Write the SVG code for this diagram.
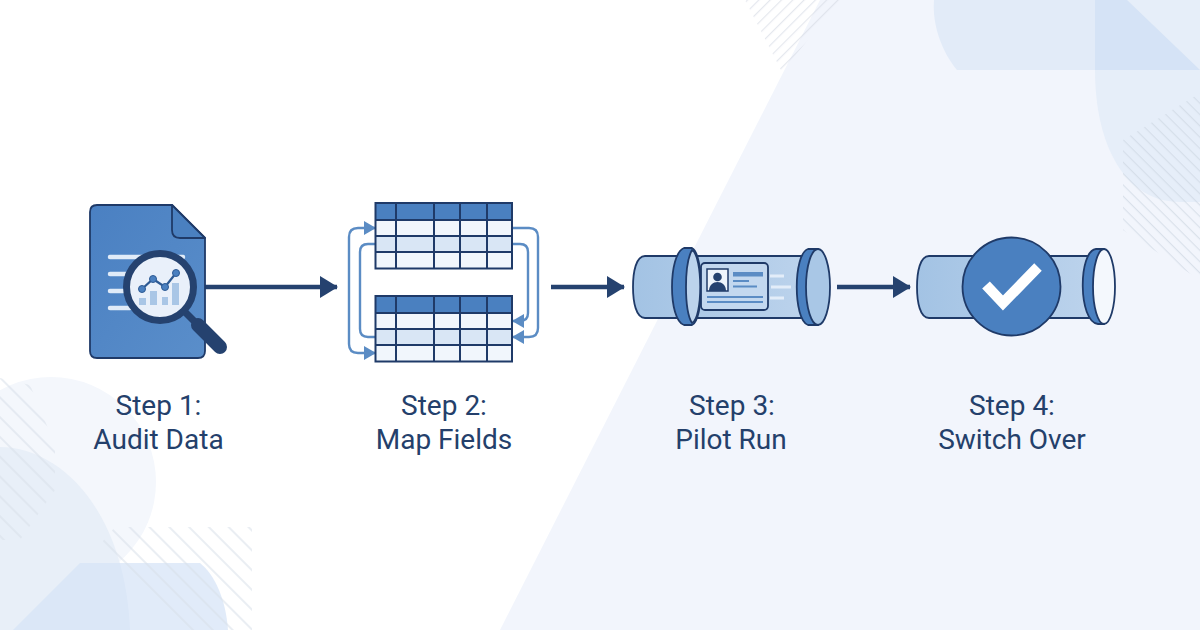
<svg xmlns="http://www.w3.org/2000/svg" width="1200" height="630" viewBox="0 0 1200 630">
<style>
.lbl{font-family:Roboto,"Liberation Sans",sans-serif;font-size:28px;fill:#24406b;text-anchor:middle}
.ol{stroke:#1f3a68;stroke-width:1.8;stroke-linejoin:round}
.flow{fill:none;stroke:#25426f;stroke-width:4.5}
.map{fill:none;stroke:#5b8cc4;stroke-width:2.4}
.hdr{fill:#4a80c0}.row{fill:#f1f6fc}.alt{fill:#d9e6f5}
.grid{fill:none;stroke:#1f3a68;stroke-width:2}
.lt{stroke:#e0ebf8;stroke-width:4.5;stroke-linecap:round;fill:none}
</style>
<defs>
<marker id="hd" markerUnits="userSpaceOnUse" markerWidth="18" markerHeight="22" refX="17" refY="11" orient="auto"><path d="M0,0L18,11L0,22z" fill="#25426f"/></marker>
<marker id="hm" markerUnits="userSpaceOnUse" markerWidth="12" markerHeight="14" refX="11" refY="7" orient="auto"><path d="M0,0L12,7L0,14z" fill="#5b8cc4"/></marker>
<pattern id="hA" width="14" height="14" patternUnits="userSpaceOnUse" patternTransform="rotate(45)"><rect width="14" height="2" fill="#d9dfe8" fill-opacity=".55"/></pattern>
<pattern id="hB" width="8" height="8" patternUnits="userSpaceOnUse" patternTransform="rotate(45)"><rect width="8" height="1.2" fill="#c9d3e0" fill-opacity=".6"/></pattern>
<pattern id="hC" width="8" height="8" patternUnits="userSpaceOnUse" patternTransform="rotate(-45)"><rect width="8" height="1.2" fill="#d3d9e2" fill-opacity=".6"/></pattern>
<linearGradient id="pipe" x1="0" y1="0" x2="1" y2="0"><stop offset="0" stop-color="#a3c3e4"/><stop offset="1" stop-color="#bcd3ec"/></linearGradient>
<linearGradient id="doc" x1="0" y1="0" x2="1" y2="1"><stop offset="0" stop-color="#4a80c2"/><stop offset="1" stop-color="#5a8eca"/></linearGradient>
<g id="tbl">
<rect x="375.500" width="136.500" height="17" class="hdr"/>
<rect x="375.500" y="17" width="136.500" height="16" class="row"/>
<rect x="375.500" y="33" width="136.500" height="16" class="alt"/>
<rect x="375.500" y="49" width="136.500" height="16.500" class="row"/>
<path class="grid" d="M375.500,0H512V65.500H375.500ZM375.500,17H512M375.500,33H512M375.500,49H512M396,0V65.500M434,0V65.500M460,0V65.500M487,0V65.500"/>
</g>
</defs>
<g id="background">
<rect width="1200" height="630" fill="#fff"/>
<path d="M820,0H1200V630H500Z" fill="#f2f5fc"/>
<path d="M934,0C932,25 942,52 957,70H1200V0Z" fill="#e2ebf8"/>
<path d="M1095,0V70C1095,145 1125,202 1180,202H1200V0Z" fill="#e6eef9"/>
<path d="M1095,0H1127L1200,70H1095Z" fill="#d5e3f6"/>
<path d="M1123,140L1200,93V280L1123,230Z" fill="url(#hB)"/>
<path d="M745,0H840L782,72Z" fill="url(#hC)"/>
<circle cx="51" cy="482" r="105" fill="#f4f7fc"/>
<path d="M0,447C60,447 125,510 130,630H0Z" fill="#e8eff8"/>
<path d="M80,563H200C215,575 226,600 228,630H13Z" fill="#d5e3f6" fill-opacity=".72"/>
<path d="M0,378L30,385L55,445V490L20,540H0Z" fill="url(#hA)"/>
<path d="M115,527H252V630H180L97,548Z" fill="url(#hA)"/>
</g>
<g id="connectors">
<path class="flow" d="M205,287H337" marker-end="url(#hd)"/>
<path class="flow" d="M551,287H624" marker-end="url(#hd)"/>
<path class="flow" d="M837,287H910" marker-end="url(#hd)"/>
<path class="map" d="M349,290V237Q349,228 358,228H375" marker-end="url(#hm)"/>
<path class="map" d="M349,290V344Q349,353 358,353H375" marker-end="url(#hm)"/>
<path class="map" d="M375,244H368Q360,244 360,252V329Q360,337 368,337H375"/>
<path class="map" d="M512,228H529Q538,228 538,237V328Q538,337 529,337H513" marker-end="url(#hm)"/>
<path class="map" d="M512,244H520Q528,244 528,252V313Q528,321 520,321H513" marker-end="url(#hm)"/>
</g>
<g id="step1">
<path class="ol" d="M97,205H172L205,238V351Q205,358 198,358H97Q90,358 90,351V212Q90,205 97,205Z" fill="url(#doc)"/>
<path class="ol" d="M172,205V230Q172,238 180,238H205Z" fill="#4a80c0"/>
<path class="lt" d="M110,257H183M110,274H130M110,291H130M110,308H130"/>
<path d="M183,310L197,324" stroke="#25426f" stroke-width="7"/>
<path d="M198,325L220,347" stroke="#25426f" stroke-width="14" stroke-linecap="round"/>
<circle cx="160" cy="287" r="33.500" fill="#e9f0fa" stroke="#25426f" stroke-width="7"/>
<path d="M139,298h7v7h-7zM150,291h7v14h-7zM162,297h6v8h-6zM172,283h7v22h-7z" fill="#a9c6e6"/>
<path d="M142,289L153,279L165,287L176,273" fill="none" stroke="#2d5a94" stroke-width="2.200"/>
<g fill="#4a80c0" stroke="#2d5a94"><circle cx="142" cy="289" r="3.500"/><circle cx="153" cy="279" r="3.500"/><circle cx="165" cy="287" r="3.500"/><circle cx="176" cy="273" r="3.500"/></g>
<text class="lbl" x="158.500" y="415">Step 1:</text>
<text class="lbl" x="158.500" y="449">Audit Data</text>
</g>
<g id="step2">
<use href="#tbl" y="203"/>
<use href="#tbl" y="296"/>
<text class="lbl" x="444" y="415">Step 2:</text>
<text class="lbl" x="444" y="449">Map Fields</text>
</g>
<g id="step3">
<path class="ol" d="M645,256H810V318H645C636,318 633,302 633,287C633,272 636,256 645,256Z" fill="url(#pipe)"/>
<path class="ol" d="M684,248H692C704,254 704,320 692,325H684C668,320 668,254 684,248Z" fill="#4a80c0"/>
<path class="ol" d="M692,250C684,264 684,310 692,323C703,318 703,256 692,250Z" fill="#bcd3ec"/>
<path class="ol" d="M808,249H818V325H808C793,320 793,254 808,249Z" fill="#4a80c0"/>
<ellipse class="ol" cx="818" cy="287" rx="12" ry="38" fill="#a9c7e6"/>
<rect class="ol" x="701" y="263" width="67" height="47" rx="4" fill="#c3d8ef"/>
<rect x="707" y="269" width="21" height="22" fill="#eef4fb" stroke="#1f3a68" stroke-width="1.500"/>
<circle cx="717.500" cy="277" r="4.300" fill="#25426f"/>
<path d="M709,291C709,279 726,279 726,291Z" fill="#25426f"/>
<rect x="733" y="272" width="30" height="4.500" fill="#5b8cc4"/>
<path d="M733,281H749M733,286.500H757M707,297H763M707,302H763" stroke="#5b8cc4" stroke-width="1.800" fill="none"/>
<path d="M770,276H784M771,287H791M770,298H784" stroke="#e3edf9" stroke-width="3" fill="none"/>
<text class="lbl" x="732" y="415">Step 3:</text>
<text class="lbl" x="731" y="449">Pilot Run</text>
</g>
<g id="step4">
<path class="ol" d="M929,256H1095V318H929C920,318 917,302 917,287C917,272 920,256 929,256Z" fill="url(#pipe)"/>
<path class="ol" d="M1096,249H1104V324H1098C1078,322 1078,251 1096,249Z" fill="#4a80c0"/>
<ellipse class="ol" cx="1104" cy="286.500" rx="11" ry="37.500" fill="#f4f8fd"/>
<circle class="ol" cx="1011.500" cy="286.500" r="49" fill="#4a80c0"/>
<path d="M986,285L1003,303L1038,267" fill="none" stroke="#fff" stroke-width="10.500"/>
<text class="lbl" x="1012" y="415">Step 4:</text>
<text class="lbl" x="1012" y="449">Switch Over</text>
</g>
</svg>
